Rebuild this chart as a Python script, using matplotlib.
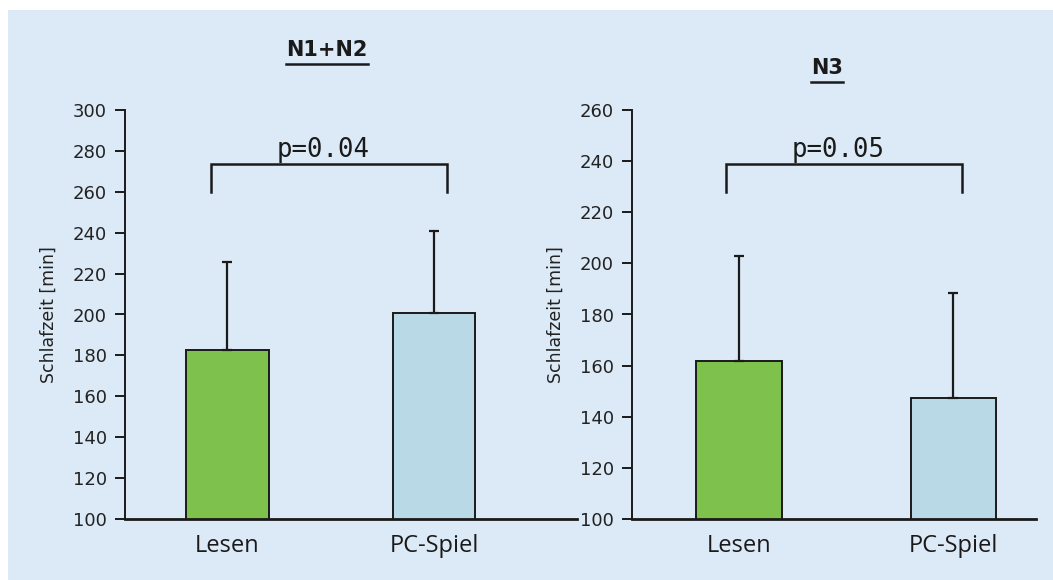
import matplotlib
matplotlib.use("Agg")
import matplotlib.pyplot as plt
from matplotlib.patches import Rectangle
from matplotlib.lines import Line2D

groups = ["Lesen", "PC-Spiel"]
colors = ["#7fc14d", "#bad9e6"]

# N1+N2
n12_mean = [182.5, 200.5]
n12_sd = [43.0, 40.2]
n12_ticks = list(range(100, 301, 20))
n12_p = "p=0.04"
n12_bracket = [260, 273.5]

# N3
n3_mean = [161.7, 147.3]
n3_sd = [41.1, 41.3]
n3_ticks = list(range(100, 261, 20))
n3_p = "p=0.05"
n3_bracket = [228, 239]

W, H = 1053, 580
fig = plt.figure(figsize=(W / 100, H / 100), dpi=100, facecolor="white")
fig.patches.append(Rectangle((8 / W, 0), 1 - 8 / W, 1 - 10 / H,
                             transform=fig.transFigure, facecolor="#dceaf7",
                             edgecolor="none", zorder=-10))

ink = "#1a1a1a"


def panel(rect, means, sds, ticks, xlim, ptxt, bracket, bx, title, title_xy, pty):
    ax = fig.add_axes(rect)
    ax.set_facecolor("none")
    x = [0, 1]
    ax.bar(x, means, width=0.40, color=colors, edgecolor=ink, linewidth=1.4, zorder=2)
    ax.errorbar(x, means, yerr=[[0, 0], sds], fmt="none", ecolor=ink,
                elinewidth=1.6, capsize=3.5, capthick=1.6, zorder=3)
    ax.set_ylim(ticks[0], ticks[-1])
    ax.set_xlim(*xlim)
    ax.set_yticks(ticks)
    ax.set_xticks(x)
    ax.set_xticklabels(groups, fontfamily="Open Sans", fontsize=17, color=ink)
    ax.tick_params(axis="x", length=0, pad=11)
    ax.tick_params(axis="y", direction="out", length=7, width=1.4, color=ink,
                   labelsize=13, labelcolor="#222222", pad=6)
    for s in ["top", "right"]:
        ax.spines[s].set_visible(False)
    ax.spines["left"].set_linewidth(1.4)
    ax.spines["bottom"].set_linewidth(2.0)
    ax.spines["left"].set_color(ink)
    ax.spines["bottom"].set_color(ink)
    ax.set_ylabel("Schlafzeit [min]", fontsize=12.5, color="#222222", labelpad=11)
    # significance bracket
    lo, hi = bracket
    ax.plot([bx[0], bx[0], bx[1], bx[1]], [lo, hi, hi, lo], color=ink,
            linewidth=1.8, solid_joinstyle="miter", clip_on=False, zorder=4)
    ax.text((bx[0] + bx[1]) / 2 - 0.03, pty, ptxt, ha="center", va="center",
            fontfamily="DejaVu Sans Mono", fontsize=18.5, color=ink)
    # underlined title
    t = fig.text(title_xy[0] / W, 1 - title_xy[1] / H, title, ha="center", va="center",
                 fontfamily="DejaVu Sans", fontweight="bold", fontsize=15, color=ink)
    fig.canvas.draw()
    bb = t.get_window_extent()
    yline = bb.y0 - 4
    fig.lines.append(Line2D([bb.x0 / W, bb.x1 / W], [yline / H, yline / H],
                            transform=fig.transFigure, color=ink, linewidth=1.8))
    return ax


panel([125 / W, 61 / H, 452 / W, 409 / H], n12_mean, n12_sd, n12_ticks,
      (-0.496, 1.692), n12_p, n12_bracket, (-0.08, 1.063), "N1+N2", (327, 50), 280.5)
ax2 = panel([632 / W, 61 / H, 404 / W, 409 / H], n3_mean, n3_sd, n3_ticks,
            (-0.499, 1.385), n3_p, n3_bracket, (-0.06, 1.04), "N3", (827, 68), 244.5)

fig.savefig("out.png", dpi=100, facecolor=fig.get_facecolor())
